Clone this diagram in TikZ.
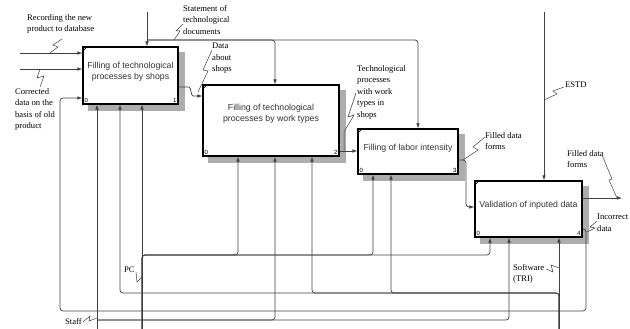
\documentclass[tikz,border=0pt]{standalone}
\usepackage{fontspec}
\setmainfont{Liberation Serif}
\newfontfamily\boxfont{Liberation Sans}
\usetikzlibrary{arrows.meta,backgrounds}

\begin{document}
\begin{tikzpicture}[x=1pt, y=-1pt,
    flow/.style={draw=black!75, line width=0.7pt, rounded corners=3pt, -{Latex[length=5pt,width=3.6pt]}},
    leader/.style={draw=black!75, line width=0.5pt},
    proc/.style={draw=black, line width=1.2pt, fill=white, inner sep=0pt},
    shade/.style={fill=black!32},
    procname/.style={font=\boxfont\fontsize{8.75}{11}\selectfont, text=black!80, align=center},
    lbl/.style={font=\fontsize{8.6}{11.5}\selectfont, text=black, align=left, anchor=north west, inner sep=0pt},
    num/.style={font=\boxfont\fontsize{6}{6}\selectfont, inner sep=2pt}]

  \useasboundingbox (0,0) rectangle (630,329);

  \node[proc, minimum width=95pt, minimum height=57pt] (A) at (130.5,75.5) {};
  \node[proc, minimum width=136pt, minimum height=71pt] (B) at (271,120.5) {};
  \node[proc, minimum width=100pt, minimum height=45pt] (C) at (408,151.5) {};
  \node[proc, minimum width=107pt, minimum height=56pt] (D) at (528.5,209) {};

  \begin{pgfonlayer}{background}
    \foreach \b in {A,B,C,D}
      \fill[shade] ([shift={(6,6)}]\b.north west) rectangle ([shift={(6,6)}]\b.south east);
  \end{pgfonlayer}

  \node[procname] (At) at (130.5,71.5) {Filling of technological\\processes by shops};
  \node[procname] (Bt) at (271,114) {Filling of technological\\processes by work types};
  \node[procname] (Ct) at (408,148) {Filling of labor intensity};
  \node[procname] (Dt) at (528.5,205) {Validation of inputed data};

  \foreach \b/\n in {A/1, B/2, C/3, D/4} {
    \node[num, anchor=south west] at (\b.south west) {0};
    \node[num, anchor=south east] at (\b.south east) {\n};
    \draw[line width=0.7pt] ([yshift=-5pt]\b.north west) -- ([xshift=5pt]\b.north west);
  }

  \coordinate (recSrc) at (20,53);
  \coordinate (corSrc) at (20,69);
  \coordinate (stmSrc) at (147,12);
  \coordinate (estdSrc) at (544,12);
  \coordinate (outEnd) at (622,198);
  \coordinate (staffSrc) at (97,329);
  \coordinate (pcSrc) at (142,329);
  \coordinate (softSrc) at (559,329);

  \draw[flow] (recSrc) -- (A.west |- recSrc);
  \draw[flow] (corSrc) -- (A.west |- corSrc);
  \draw[flow] (stmSrc) -- (A.north -| stmSrc);
  \draw[flow] (stmSrc |- 0,40) -- (275,40) -- (B.north -| 275,0);
  \draw[flow] (stmSrc |- 0,40) -- (418,40) -- (C.north -| 418,0);
  \draw[flow] (estdSrc) -- (D.north -| estdSrc);

  \draw[flow] (A.east |- 0,87) -- (186,87) to[out=0, in=180] (196,96) -- (B.west |- 0,96);
  \draw[flow] (B.east |- 0,151) -- (C.west |- 0,151);
  \draw[flow] (C.east |- 0,160) -- (466,160) -- (466,207) -- (D.west |- 0,207);
  \draw[flow] (D.east |- outEnd) -- (outEnd);
  \draw[flow] (D.east |- 0,229) -- (586,229) -- (586,311) -- (60,311) -- (60,98) -- (A.west |- 0,98);

  \draw[flow] (staffSrc) -- (A.south -| staffSrc);
  \draw[flow] (staffSrc |- 0,320) -- (275,320) -- (B.south -| 275,0);
  \draw[flow] (staffSrc |- 0,320) -- (509,320) -- (D.south -| 509,0);
  \draw[flow] (pcSrc) -- (A.south -| pcSrc);
  \foreach \b/\x in {B/238, C/373, D/490}
    \draw[flow] (pcSrc) -- (142,255) -- (\x,255) -- (\b.south -| \x,0);
  \draw[flow] (softSrc) -- (D.south -| softSrc);
  \foreach \b/\x in {A/120, B/312, C/391}
    \draw[flow] (softSrc) -- (559,293) -- (\x,293) -- (\b.south -| \x,0);

  \node[lbl] (lRec) at (27,14) {Recording the new\\product to database};
  \node[lbl] (lCor) at (15,88) {Corrected\\data on the\\basis of old\\product};
  \node[lbl] (lStm) at (183,5) {Statement of\\technological\\documents};
  \node[lbl] (lDat) at (212,43) {Data\\about\\shops};
  \node[lbl] (lTwt) at (357,65) {Technological\\processes\\with work\\types in\\shops};
  \node[lbl] (lFl1) at (485,132) {Filled data\\forms};
  \node[lbl] (lEst) at (565,82) {ESTD};
  \node[lbl] (lFl2) at (567,150) {Filled data\\forms};
  \node[lbl] (lInc) at (597,214) {Incorrect\\data};
  \node[lbl] (lPC) at (124,267) {PC};
  \node[lbl] (lStf) at (65,318) {Staff};
  \node[lbl] (lSoft) at (513,264) {Software\\(TRI)};

  \draw[leader] (50,53) -- (58,47) -- (53,45) -- (62,39);
  \draw[leader] (40,69) -- (37,78) -- (44,76) -- (40,87);
  \draw[leader] (174,40) -- (180,31) -- (176,31) -- (183,24);
  \draw[leader] (212,50) -- (203,70) -- (208,71) -- (198,92);
  \draw[leader] (356,93) -- (348,117) -- (354,115) -- (344,132) -- (344,151);
  \draw[leader] (485,137) -- (473,147) -- (478,150) -- (463,160);
  \draw[leader] (544,100) -- (557,94) -- (553,91) -- (564,87);
  \draw[leader] (602,155) -- (612,179) -- (609,180) -- (617,198);
  \draw[leader] (597,221) -- (590,227) -- (595,228) -- (587,232);
  \draw[leader] (136,272) -- (137,282) -- (142,277);
  \draw[leader] (83,322) -- (90,316) -- (89,321) -- (97,318);
  \draw[leader] (546,269) -- (553,272) -- (551,265) -- (559,268);
\end{tikzpicture}
\end{document}
